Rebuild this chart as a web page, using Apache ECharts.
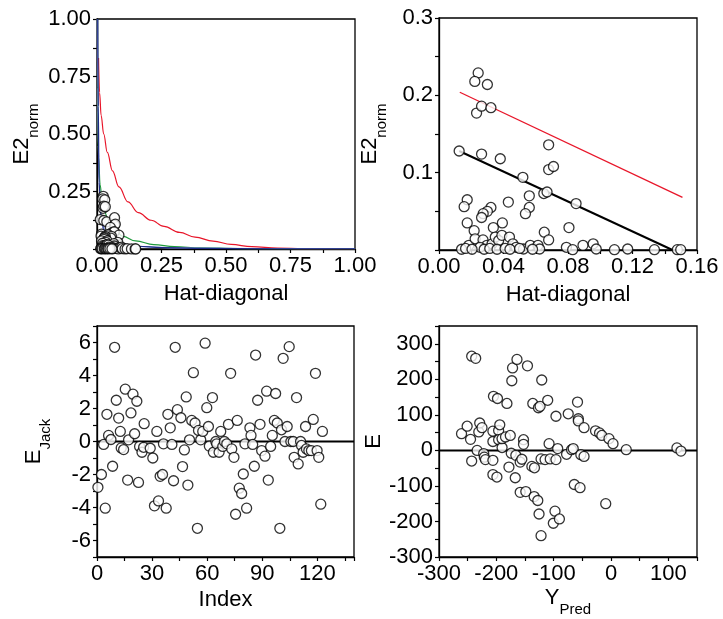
<!DOCTYPE html>
<html>
<head>
<meta charset="utf-8">
<script src="https://cdn.jsdelivr.net/npm/echarts@6/dist/echarts.min.js"></script>
<style>
  html, body { margin: 0; padding: 0; background: #fff; }
  #chart { width: 723px; height: 619px; }
</style>
</head>
<body>
<div id="chart"></div>
<script>
// leverage (hat diagonal) vs normalised squared residual
const hatDiag = [0.0243, 0.0222, 0.030, 0.0233, 0.0264, 0.0322, 0.0125, 0.0264, 0.038, 0.068, 0.068, 0.071,
  0.052, 0.056, 0.065, 0.067, 0.085, 0.0175, 0.0156, 0.043, 0.056, 0.0536, 0.0322, 0.030, 0.0274, 0.0264,
  0.0175, 0.0393, 0.0337, 0.0806, 0.0218, 0.0653, 0.068,
  0.0185, 0.0224, 0.0273, 0.0297, 0.0254, 0.0329, 0.0349, 0.037, 0.039, 0.0437, 0.0458, 0.0478, 0.0524,
  0.0566, 0.0614, 0.0624, 0.079, 0.0829, 0.0893, 0.0956, 0.0975, 0.1088, 0.117, 0.1336, 0.1478, 0.1499,
  0.014, 0.0165, 0.0205, 0.028, 0.0315, 0.036, 0.041, 0.044, 0.05, 0.058];
const e2Norm = [0.229, 0.218, 0.214, 0.177, 0.186, 0.184, 0.128, 0.124, 0.118, 0.136, 0.104, 0.108,
  0.094, 0.070, 0.073, 0.075, 0.060, 0.065, 0.056, 0.062, 0.055, 0.047, 0.055, 0.050, 0.047, 0.042,
  0.035, 0.035, 0.029, 0.029, 0.025, 0.023, 0.013,
  0.006, 0.0145, 0.013, 0.006, 0.0035, 0.008, 0.0167, 0.0123, 0.019, 0.0167, 0.008, 0.0035, 0.0013,
  0.006, 0.006, 0.0013, 0.0035, 0.0004, 0.006, 0.008, 0.0013, 0.0004, 0.0013, 0.0004, 0.0004, 0.0004,
  0.001, 0.002, 0.001, 0.001, 0.002, 0.001, 0.002, 0.001, 0.002, 0.001];

// contour curves in the L-R plot
const redCurve = [[0.006, 0.83], [0.01, 0.68], [0.016, 0.58], [0.026, 0.5], [0.04, 0.42], [0.06, 0.34],
  [0.085, 0.27], [0.12, 0.205], [0.16, 0.158], [0.21, 0.125], [0.26, 0.098], [0.32, 0.072], [0.38, 0.052],
  [0.45, 0.034], [0.52, 0.02], [0.6, 0.01], [0.7, 0.004], [0.8, 0.002], [1.0, 0.001]];
const greenCurve = [[0.002, 1.0], [0.003, 0.6], [0.006, 0.4], [0.012, 0.28], [0.02, 0.21], [0.03, 0.16],
  [0.045, 0.115], [0.07, 0.078], [0.1, 0.055], [0.15, 0.035], [0.22, 0.019], [0.3, 0.01], [0.4, 0.005],
  [0.55, 0.002], [1.0, 0.001]];
const navyCurve = [[0.003, 1.0], [0.005, 0.62], [0.008, 0.29], [0.015, 0.145], [0.028, 0.073], [0.054, 0.036],
  [0.093, 0.022], [0.157, 0.012], [0.25, 0.006], [0.38, 0.003], [0.7, 0.001], [1.0, 0.001]];
const blueCurve = [[0.001, 1.0], [0.003, 0.7], [0.005, 0.45], [0.008, 0.3], [0.012, 0.2], [0.02, 0.11],
  [0.04, 0.05], [0.08, 0.022], [0.15, 0.011], [0.3, 0.005], [0.6, 0.002], [1.0, 0.001]];

// zoomed L-R plot lines
const fitLine = [[0.0125, 0.128], [0.1448, 0]];
const limitLine = [[0.0129, 0.204], [0.151, 0.068]];

// jackknife residuals by index
const jackIndex = [0.5, 2.4, 3.6, 4.5, 5.4, 6.3, 7.6, 8.5, 9.6, 10.5, 11.8, 12.7, 13.2, 14.5, 15.4, 16.7, 17.2,
  18.5, 19.6, 20.5, 21.7, 22.6, 23.2, 24.5, 25.4, 25.7, 29.0, 30.4, 31.3, 32.6, 33.5, 34.4, 35.7, 36.2, 37.7,
  38.6, 39.9, 40.8, 41.7, 42.6, 43.8, 45.7, 46.6, 47.6, 48.6, 49.5, 50.4, 51.6, 52.5, 53.4, 54.7, 55.3, 56.5,
  57.6, 58.9, 59.8, 60.7, 61.2, 62.9, 63.4, 64.7, 65.2, 66.5, 67.4, 68.5, 69.4, 70.7, 71.6, 72.8, 73.4, 74.6,
  75.5, 76.4, 77.5, 78.8, 79.7, 80.6, 81.5, 83.3, 83.9, 84.8, 85.7, 86.4, 87.5, 88.8, 89.7, 91.5, 92.4, 93.3,
  94.6, 95.5, 96.6, 97.3, 98.2, 99.6, 100.5, 101.4, 102.4, 103.6, 104.7, 105.6, 106.9, 107.4, 108.7, 109.6,
  110.9, 111.4, 112.3, 113.6, 114.1, 115.4, 116.8, 117.8, 119.0, 119.9, 120.8, 121.9, 122.8];
const jackE = [-2.78, -2.0, -0.18, -4.04, 1.65, 0.37, 0.12, -1.5, 5.71, 2.5, 1.42, 0.61, -0.39, -0.49, 3.17, -2.34,
  0.1, 1.73, 2.87, 0.47, 2.44, -2.48, -0.3, -0.65, -0.35, 1.08, -0.41, -1.0, -3.9, 0.61, -3.6, -2.11, -2.0, -0.14,
  -4.04, 1.65, 0.83, -0.18, -2.38, 5.71, 1.93, 1.44, -1.52, -0.51, 2.7, -2.64, 0.1, 1.28, 4.17, 1.12, -5.26, 0.67,
  0.1, 0.61, 5.96, 2.05, 0.91, -0.28, 2.66, -0.65, 0.0, -0.14, -0.65, 0.61, -0.3, 0.0, -0.14, 1.04, 4.13, -0.45,
  -0.96, -4.41, 1.28, -2.83, -3.15, -1.97, -0.14, -4.04, 0.83, 0.37, -0.18, -1.5, 5.24, 2.5, 1.04, -0.55, -0.89,
  3.05, -2.34, -0.3, 0.37, 1.28, 2.91, 1.12, -5.26, 0.71, 5.04, 0.0, 0.91, 5.75, 0.0, 0.0, -0.96, 2.66, -1.36,
  0.0, -0.24, -0.65, 0.91, -0.45, -0.55, -0.55, 1.34, 4.13, -0.55, -0.96, -3.8, 0.61];

// residual vs predicted
const yPred = [-260.7, -250.9, -245, -243, -243, -236, -233.5, -230.6, -229, -225, -222, -221, -219, -206, -206,
  -206, -206, -205, -199, -198, -196, -194, -196, -190, -190, -184, -181.5, -178, -175.7, -174, -173, -171.7,
  -167, -166, -164, -158.4, -158.4, -155.5, -152.6, -152.6, -148.6, -145.7, -138, -136.4, -134, -133.5, -127.7,
  -126.6, -123.7, -125.5, -122, -120.8, -122, -115, -110.4, -108, -106, -100.6, -97.7, -96, -96, -93, -90,
  -77.5, -74.6, -68.8, -64, -65.9, -58.4, -57, -57, -54, -52.6, -47, -47, -27, -20, -16, -9.2, -3.5, 3.5,
  26.6, 115, 122];
const residE = [47, 68, 31, -30, 265, 259, 0, 52, 77, 64, -9, -19, -26, -28, 25, 54, -68, 152, -75, 146, 56, 72,
  30, 8, 33, 38, 132, -47, 42, -8, 196, 232, -77, -14, 256, -33, -118, -25, 30, 17, -116, 238, -45, 132, -130,
  -49, -141, 120, 124, -179, -240, 198, -24, -26, 141, 19, -24, -205, -171, -26, 96, 5, -193, -11, 103, 2, -96,
  5, 136, 89, 83, -105, -12, -17, 64, 55, 49, 42, -150, 33, 19, 2, 7, -2];

const zeroIndex = [0, 140];
const zeroPred = [-300, 150];

const FONT = 'Liberation Sans';
const pair = (xs, ys) => xs.map((x, i) => [x, ys[i]]);
const onStep = (v, step) => Math.abs(v / step - Math.round(v / step)) < 1e-6;

// main text pinned to the top of the line, subscript to the bottom
const subName = {
  m: { fontSize: 22, fontFamily: FONT, color: '#000', verticalAlign: 'top', lineHeight: 30 },
  s: { fontSize: 15, fontFamily: FONT, color: '#000', verticalAlign: 'bottom', lineHeight: 16 }
};

function axis(gridIndex, o) {
  return {
    type: 'value',
    gridIndex: gridIndex,
    min: o.min, max: o.max, interval: o.interval,
    name: o.name, nameLocation: 'middle', nameGap: o.nameGap,
    nameTextStyle: { fontSize: 22, fontFamily: FONT, color: '#000', rich: subName },
    axisLine: { show: true, onZero: false, lineStyle: { color: '#000', width: 1.3 } },
    axisTick: { show: true, length: 4, lineStyle: { color: '#000', width: 1.2 } },
    splitLine: { show: false },
    axisLabel: {
      fontSize: 22, fontFamily: FONT, color: '#000', margin: 6,
      formatter: o.fmt
    }
  };
}

function circles(gridIndex, data) {
  return {
    type: 'scatter', xAxisIndex: gridIndex, yAxisIndex: gridIndex, data: data,
    symbol: 'circle', symbolSize: 10, clip: true,
    itemStyle: { color: '#fff', borderColor: '#000', borderWidth: 1.3 },
    z: 3
  };
}

function line(gridIndex, data, color, width) {
  return {
    type: 'line', xAxisIndex: gridIndex, yAxisIndex: gridIndex, data: data,
    showSymbol: false, smooth: 0.4, smoothMonotone: 'x', clip: true,
    lineStyle: { color: color, width: width }, z: 2
  };
}

const leverage = pair(hatDiag, e2Norm);
const gridBox = { show: true, borderColor: '#000', borderWidth: 1.3, backgroundColor: 'transparent' };

const chart = echarts.init(document.getElementById('chart'));
chart.setOption({
  animation: false,
  grid: [
    Object.assign({ left: 97, top: 19, width: 258, height: 230 }, gridBox),
    Object.assign({ left: 439, top: 18, width: 258, height: 232 }, gridBox),
    Object.assign({ left: 97, top: 326, width: 257, height: 231 }, gridBox),
    Object.assign({ left: 439, top: 326, width: 258, height: 231 }, gridBox)
  ],
  xAxis: [
    axis(0, { min: 0, max: 1, interval: 0.125, name: 'Hat-diagonal', nameGap: 34,
      fmt: v => onStep(v, 0.25) ? v.toFixed(2) : '' }),
    axis(1, { min: 0, max: 0.16, interval: 0.02, name: 'Hat-diagonal', nameGap: 34,
      fmt: v => onStep(v, 0.04) ? v.toFixed(2) : '' }),
    axis(2, { min: 0, max: 140, interval: 15, name: 'Index', nameGap: 32,
      fmt: v => onStep(v, 30) ? String(v) : '' }),
    axis(3, { min: -300, max: 150, interval: 50, name: '{m|Y}{s|Pred}', nameGap: 30,
      fmt: v => onStep(v, 100) ? String(v) : '' })
  ],
  yAxis: [
    axis(0, { min: 0, max: 1, interval: 0.125, name: '{m|E2}{s|norm}', nameGap: 56,
      fmt: v => (v > 0 && onStep(v, 0.25)) ? v.toFixed(2) : '' }),
    axis(1, { min: 0, max: 0.3, interval: 0.05, name: '{m|E2}{s|norm}', nameGap: 50,
      fmt: v => (v > 0 && onStep(v, 0.1)) ? v.toFixed(1) : '' }),
    axis(2, { min: -7, max: 7, interval: 1, name: '{m|E}{s|Jack}', nameGap: 44,
      fmt: v => onStep(v, 2) ? String(v) : '' }),
    axis(3, { min: -300, max: 350, interval: 50, name: 'E', nameGap: 52,
      fmt: v => onStep(v, 100) ? String(v) : '' })
  ],
  series: [
    line(0, redCurve, '#e8162a', 1.2),
    line(0, greenCurve, '#1f9a3c', 1.2),
    line(0, blueCurve, '#7f93d6', 1.2),
    line(0, navyCurve, '#1d2a86', 1.2),
    circles(0, leverage),
    line(1, limitLine, '#e8162a', 1.3),
    line(1, fitLine, '#000', 2),
    circles(1, leverage),
    line(2, pair(zeroIndex, [0, 0]), '#000', 2),
    circles(2, pair(jackIndex, jackE)),
    line(3, pair(zeroPred, [0, 0]), '#000', 2),
    circles(3, pair(yPred, residE))
  ]
});
</script>
</body>
</html>
